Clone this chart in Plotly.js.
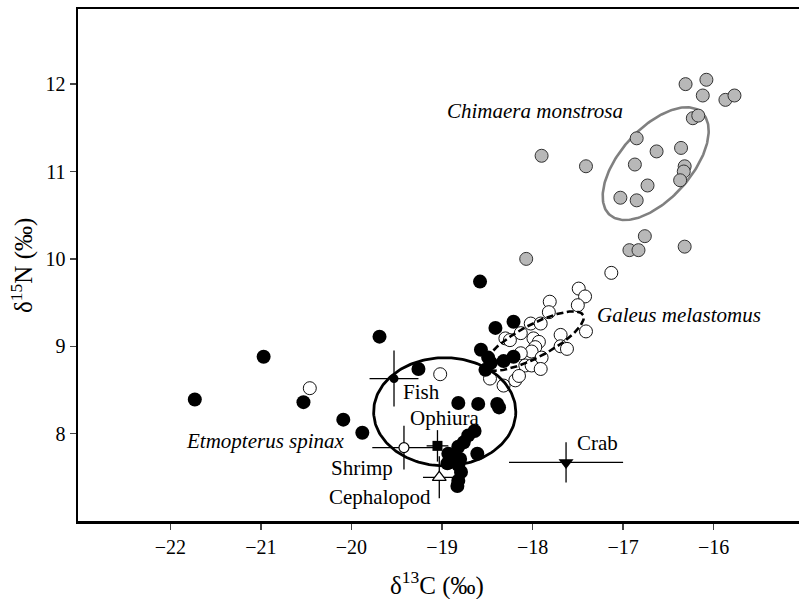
<!DOCTYPE html>
<html>
<head>
<meta charset="utf-8">
<script src="https://cdn.plot.ly/plotly-3.0.1.min.js"></script>
<style>html,body{margin:0;padding:0;overflow:hidden;background:#fff;}#chart{width:806px;height:599px;}</style>
</head>
<body>
<div id="chart"></div>
<script>
// Etmopterus spinax (black filled)
const etmX = [-21.73,-20.97,-20.53,-20.09,-19.88,-19.69,-19.26,
  -18.82,-18.60,-18.39,-18.37,-18.64,-18.71,-18.76,-18.82,-18.93,-18.85,-18.80,-18.61,-18.94,-18.82,-18.79,-18.82,-18.83,
  -18.58,-18.41,-18.21,-18.57,-18.49,-18.46,-18.52,-18.32,-18.21];
const etmY = [8.39,8.88,8.36,8.16,8.01,9.11,8.74,
  8.35,8.34,8.34,8.30,8.03,7.98,7.90,7.85,7.77,7.73,7.71,7.77,7.66,7.64,7.56,7.46,7.40,
  9.74,9.21,9.28,8.96,8.87,8.81,8.73,8.83,8.88];
// Galeus melastomus (open)
const galX = [-17.13,-17.49,-17.42,-17.50,-17.81,-17.82,-17.41,-18.02,-17.91,-18.13,-18.30,-18.25,-17.99,-17.93,
  -17.69,-17.69,-17.62,-17.97,-18.01,-18.13,-17.90,-18.08,-18.01,-17.91,-18.47,-18.32,-18.19,-18.15,-19.02,-20.46];
const galY = [9.84,9.66,9.57,9.47,9.51,9.39,9.17,9.26,9.26,9.15,9.09,9.07,9.09,9.05,
  9.13,9.00,8.97,8.99,8.94,8.92,8.87,8.78,8.78,8.74,8.63,8.55,8.61,8.66,8.68,8.52];
// Chimaera monstrosa (grey)
const chiX = [-16.31,-16.08,-16.12,-15.87,-15.77,-16.23,-16.17,-16.85,-16.63,-16.36,-17.90,-17.41,-16.87,-16.32,
  -16.33,-16.37,-16.73,-17.03,-16.85,-16.76,-16.93,-16.83,-16.32,-18.07];
const chiY = [12.00,12.05,11.87,11.82,11.87,11.61,11.64,11.38,11.23,11.27,11.18,11.06,11.08,11.06,
  11.00,10.90,10.84,10.70,10.67,10.26,10.10,10.10,10.14,10.00];
// Prey sources: mean and SD
const preyNames = ["Fish","Shrimp","Ophiura","Cephalopod","Crab"];
const preyX  = [-19.53,-19.42,-19.05,-19.03,-17.63];
const preyY  = [8.63,7.84,7.86,7.50,7.67];
const preyXsd = [0.27,0.35,0.12,0.18,0.63];
const preyYsd = [0.32,0.25,0.18,0.24,0.23];

const YF = 87.27/90.5; // y units per x unit in screen terms
function ellipse(cx, cy, a, b, deg){
  const th = deg*Math.PI/180, xs=[], ys=[];
  for(let i=0;i<=200;i++){
    const t = 2*Math.PI*i/200;
    const dx = a*Math.cos(th)*Math.cos(t) - b*Math.sin(th)*Math.sin(t);
    const dy = a*Math.sin(th)*Math.cos(t) + b*Math.cos(th)*Math.sin(t);
    xs.push(cx+dx); ys.push(cy+dy/YF);
  }
  return {x:xs,y:ys};
}
const eChi = ellipse(-16.64, 11.09, 0.76, 0.39, 48);
const eGal = ellipse(-17.98, 9.06, 0.61, 0.18, 28);
const eEtm = ellipse(-18.97, 8.25, 0.785, 0.597, 0);

const traces = [];
traces.push({x:eChi.x,y:eChi.y,mode:'lines',line:{color:'#808080',width:2.6},hoverinfo:'skip'});
traces.push({x:chiX,y:chiY,mode:'markers',marker:{size:13,color:'#b8b8b8',line:{color:'#333',width:1}}});
traces.push({x:galX,y:galY,mode:'markers',marker:{size:13,color:'#fff',line:{color:'#111',width:1}}});
traces.push({x:eGal.x,y:eGal.y,mode:'lines',line:{color:'#000',width:2.6,dash:'7px,3.5px'},hoverinfo:'skip'});
traces.push({x:eEtm.x,y:eEtm.y,mode:'lines',line:{color:'#000',width:2.8},hoverinfo:'skip'});
traces.push({x:etmX,y:etmY,mode:'markers',marker:{size:14,color:'#000',line:{width:0}}});
const preySym = ['circle','circle-open','square','triangle-up','triangle-down'];
const preySize = [9,10,10,12,13];
for(let i=0;i<preyNames.length;i++){
  const open = preySym[i]==='circle-open' || preySym[i]==='triangle-up';
  traces.push({x:[preyX[i]],y:[preyY[i]],mode:'markers',name:preyNames[i],
    error_x:{type:'data',array:[preyXsd[i]],width:0,thickness:1.3,color:'#000'},
    error_y:{type:'data',array:[preyYsd[i]],width:0,thickness:1.3,color:'#000'},
    marker:{symbol: preySym[i]==='circle-open'?'circle':preySym[i],size:preySize[i],
      color: open?'#fff':'#000', line:{color:'#000',width: open?1.2:0}}});
}

const F = 'Liberation Serif, Times New Roman, serif';
const ann = (t,x,y,it,xa)=>({text:it?'<i>'+t+'</i>':t,x:x,y:y,xref:'x',yref:'y',showarrow:false,
  xanchor:xa||'center',yanchor:'middle',font:{family:F,size:21,color:'#000'}});
const annotations = [
  ann('Chimaera monstrosa',-17.97,11.69,true),
  ann('Galeus melastomus',-16.38,9.36,true),
  ann('Etmopterus spinax',-20.95,7.91,true),
  ann('Fish',-19.23,8.48,false),
  ann('Ophiura',-18.97,8.18,false),
  ann('Shrimp',-19.88,7.61,false),
  ann('Cephalopod',-19.68,7.27,false),
  ann('Crab',-17.28,7.89,false),
  {text:'δ<sup>13</sup>C (‰)',xref:'paper',yref:'paper',x:0.493,y:-0.122,showarrow:false,xanchor:'center',yanchor:'middle',font:{family:F,size:25,color:'#000'}},
  {text:'δ<sup>15</sup>N (‰)',xref:'paper',yref:'paper',x:-0.077,y:0.5,textangle:-90,showarrow:false,xanchor:'center',yanchor:'middle',font:{family:F,size:25,color:'#000'}}
];

const layout = {
  width:806,height:599,showlegend:false,
  margin:{l:78,r:0,t:9,b:78,pad:0},
  paper_bgcolor:'#fff',plot_bgcolor:'#fff',
  font:{family:F,size:20,color:'#000'},
  xaxis:{range:[-23.02,-14.98],tickvals:[-22,-21,-20,-19,-18,-17,-16],ticks:'outside',ticklen:6,tickwidth:1.5,
    showline:true,linewidth:2.5,linecolor:'#000',mirror:true,showgrid:false,zeroline:false,
    tickfont:{family:F,size:20,color:'#000'}},
  yaxis:{range:[7.0,12.86],tickvals:[8,9,10,11,12],ticks:'outside',ticklen:6,tickwidth:1.5,
    showline:true,linewidth:2.5,linecolor:'#000',mirror:true,showgrid:false,zeroline:false,
    tickfont:{family:F,size:20,color:'#000'}},
  annotations:annotations
};
Plotly.newPlot('chart',traces,layout,{staticPlot:true});
</script>
</body>
</html>
